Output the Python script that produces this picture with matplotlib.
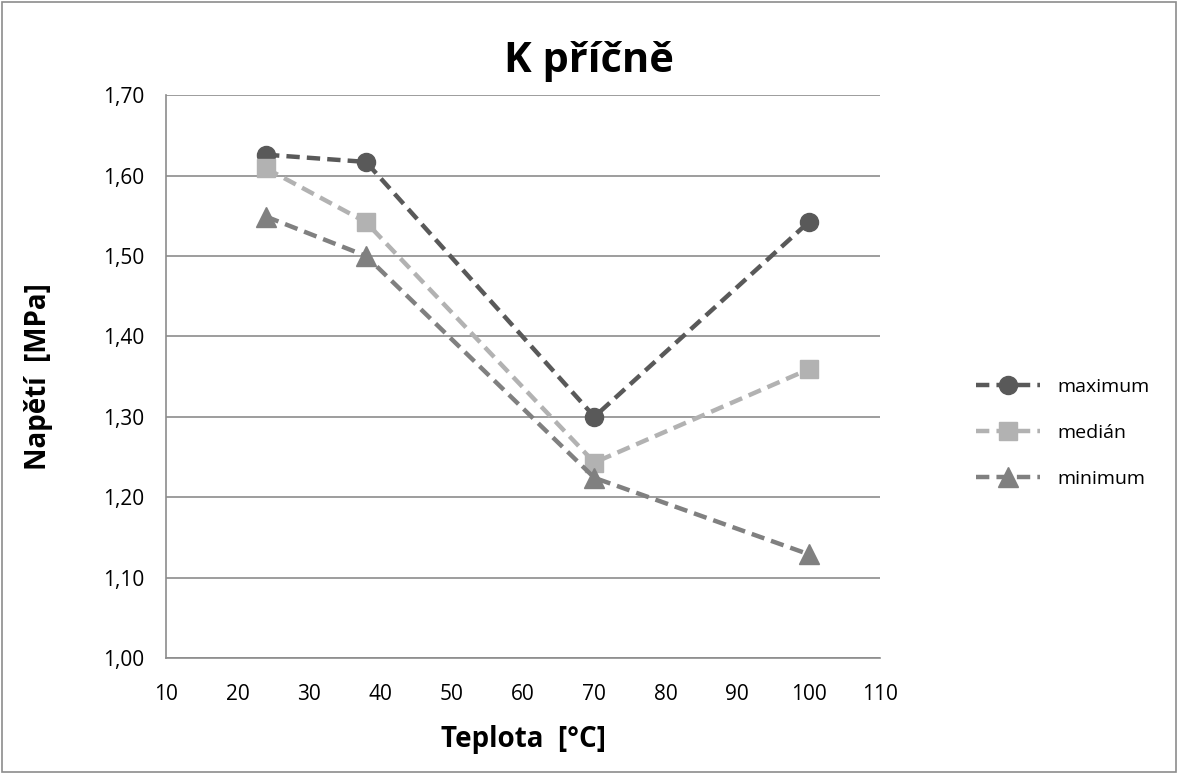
import matplotlib.pyplot as plt
from matplotlib.ticker import FuncFormatter

# Teplota [°C] a napětí [MPa]
teplota = [24, 38, 70, 100]
maximum = [1.626, 1.617, 1.300, 1.542]
median = [1.609, 1.542, 1.243, 1.359]
minimum = [1.549, 1.500, 1.224, 1.129]

plt.rcParams['font.family'] = ['Open Sans', 'DejaVu Sans']

fig = plt.figure(figsize=(11.78, 7.74), dpi=100)
ax = fig.add_axes([0.141, 0.15, 0.606, 0.727])

serie = [
    (maximum, 'maximum', '#595959', 'o', 13),
    (median, 'medián', '#b2b2b2', 's', 13),
    (minimum, 'minimum', '#808080', '^', 14),
]
for hodnoty, nazev, barva, znacka, vel in serie:
    ax.plot(teplota, hodnoty, color=barva, linestyle=(0, (3, 1.6)), linewidth=3.2,
            marker=znacka, markersize=vel, label=nazev)

ax.set_xlim(10, 110)
ax.set_ylim(1.0, 1.7)
ax.set_xticks(range(10, 111, 10))
ax.set_yticks([1.0 + 0.1 * i for i in range(8)])
ax.yaxis.set_major_formatter(FuncFormatter(lambda v, p: f'{v:.2f}'.replace('.', ',')))
ax.tick_params(axis='y', length=0, labelsize=15, pad=16, colors='black')
ax.tick_params(axis='x', length=0, labelsize=15, pad=19, colors='black')
ax.yaxis.grid(True, color='#8c8c8c', linewidth=1.2)
ax.set_axisbelow(True)
for s in ('top', 'right'):
    ax.spines[s].set_visible(False)
for s in ('left', 'bottom'):
    ax.spines[s].set_color('#8c8c8c')
    ax.spines[s].set_linewidth(1.2)

ax.set_xlabel('Teplota  [°C]', fontsize=20, fontweight='bold', labelpad=14)
ax.set_ylabel('Napětí  [MPa]', fontsize=20, fontweight='bold', labelpad=36)
fig.text(0.5, 0.92, 'K příčně', ha='center', va='center', fontsize=30, fontweight='bold')

ax.legend(loc='center left', bbox_to_anchor=(1.11, 0.4), frameon=False, fontsize=14,
          handlelength=3.3, handletextpad=0.9, labelspacing=1.45)

# rámeček kolem celého grafu
fig.patches.append(plt.Rectangle((0.002, 0.002), 0.996, 0.996, transform=fig.transFigure,
                                 fill=False, edgecolor='#8c8c8c', linewidth=1.2))

fig.savefig('out.png', dpi=100)
